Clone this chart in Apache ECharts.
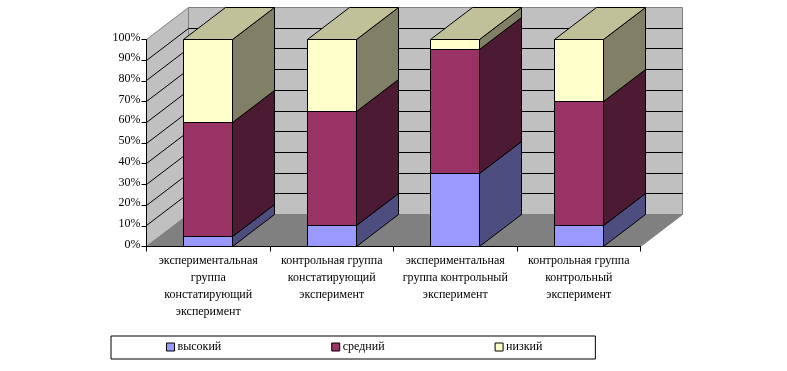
<!DOCTYPE html>
<html><head><meta charset="utf-8">
<style>html,body{margin:0;padding:0;background:#fff}#c{width:787px;height:371px}</style>
<script src="https://cdn.jsdelivr.net/npm/echarts@6/dist/echarts.min.js"></script>
</head><body><div id="c"></div>
<script>
const categories = [
  "экспериментальная\nгруппа\nконстатирующий\nэксперимент",
  "контрольная группа\nконстатирующий\nэксперимент",
  "экспериментальная\nгруппа контрольный\nэксперимент",
  "контрольная группа\nконтрольный\nэксперимент"
];
const high = [5, 10, 35.5, 10];
const mid = [55, 55.3, 59.7, 60.1];
const low = [40, 34.7, 4.8, 29.9];
const seriesNames = ["высокий", "средний", "низкий"];
const frontColors = ["#9999FF", "#993366", "#FFFFCC"];
const sideColors = ["#4D4D80", "#4D1A33", "#808066"];
const topColor = "#C0C099";
const valueTicks = [0, 10, 20, 30, 40, 50, 60, 70, 80, 90, 100];
const DX = 42, DY = 32;
const font = "'Liberation Serif','Times New Roman',serif";

const snap = v => Math.floor(v) + 0.5;
const chart = echarts.init(document.getElementById('c'), null, {renderer: 'canvas'});

function renderWalls(params, api) {
  const cs = params.coordSys;
  const l = snap(cs.x), r = snap(cs.x + cs.width);
  const children = [];
  const wallEdge = '#808080';
  const yb = snap(api.coord([0, 0])[1]), yt = snap(api.coord([0, 100])[1]);
  children.push({type:'polygon', shape:{points:[[l+DX,yt-DY],[r+DX,yt-DY],[r+DX,yb-DY],[l+DX,yb-DY]]},
    style:{fill:'#C0C0C0', stroke:wallEdge, lineWidth:1}});
  children.push({type:'polygon', shape:{points:[[l,yb],[l,yt],[l+DX,yt-DY],[l+DX,yb-DY]]},
    style:{fill:'#C0C0C0', stroke:wallEdge, lineWidth:1}});
  children.push({type:'polygon', shape:{points:[[l,yb],[r,yb],[r+DX,yb-DY],[l+DX,yb-DY]]},
    style:{fill:'#808080', stroke:wallEdge, lineWidth:1}});
  valueTicks.forEach(v => {
    if (v === 0 || v === 100) return;
    const y = snap(api.coord([0, v])[1]);
    children.push({type:'polyline', shape:{points:[[l,y],[l+DX,y-DY],[r+DX,y-DY]]},
      style:{fill:null, stroke:'#000', lineWidth:1}});
  });
  return {type:'group', children};
}

function renderBar(params, api) {
  const cat = api.value(0), from = api.value(1), to = api.value(2);
  const si = params.seriesIndex - 1;
  const c = api.coord([cat, from]), c2 = api.coord([cat, to]);
  const band = api.size([1, 0])[0];
  const w = band / 2.5;
  const x0 = snap(c[0] - w / 2), x1 = snap(c[0] + w / 2);
  const y0 = snap(c[1]), y1 = snap(c2[1]);
  const st = fill => ({fill, stroke:'#000', lineWidth:1, lineJoin:'round'});
  const kids = [
    {type:'polygon', shape:{points:[[x1,y0],[x1+DX,y0-DY],[x1+DX,y1-DY],[x1,y1]]}, style:st(sideColors[si])},
    {type:'polygon', shape:{points:[[x0,y0],[x1,y0],[x1,y1],[x0,y1]]}, style:st(frontColors[si])}
  ];
  if (si === 2) {
    kids.push({type:'polygon', shape:{points:[[x0,y1],[x1,y1],[x1+DX,y1-DY],[x0+DX,y1-DY]]}, style:st(topColor)});
  }
  return {type:'group', children:kids};
}

const stacks = [high, mid, low];
const barSeries = stacks.map((vals, si) => ({
  name: seriesNames[si],
  type: 'custom',
  renderItem: renderBar,
  clip: false,
  silent: true,
  z: 3,
  itemStyle: {color: frontColors[si]},
  encode: {x: 0, y: [1, 2]},
  data: vals.map((v, i) => {
    let base = 0;
    for (let k = 0; k < si; k++) base += stacks[k][i];
    return [i, base, base + v];
  })
}));

chart.setOption({
  animation: false,
  backgroundColor: '#fff',
  textStyle: {fontFamily: font},
  grid: {left: 146.5, right: 146.5, top: 39.5, bottom: 124.5, containLabel: false},
  legend: {
    left: 111, top: 336,
    orient: 'horizontal',
    data: seriesNames,
    selectedMode: false,
    itemWidth: 8, itemHeight: 8, itemGap: 110,
    icon: 'rect',
    padding: [5, 53, 6, 55],
    borderColor: '#000', borderWidth: 1, backgroundColor: '#fff',
    itemStyle: {borderColor: '#000', borderWidth: 1},
    textStyle: {fontFamily: font, fontSize: 12, color: '#000', padding: [0,0,0,-2]}
  },
  xAxis: {
    type: 'category', data: categories, z: 6,
    axisLine: {lineStyle: {color: '#000', width: 1}},
    axisTick: {show: true, length: 5, alignWithLabel: false, lineStyle: {color: '#000'}},
    axisLabel: {interval: 0, color: '#000', fontFamily: font, fontSize: 12, lineHeight: 17, margin: 6}
  },
  yAxis: {
    type: 'value', min: 0, max: 100, interval: 10, z: 6,
    axisLine: {show: true, lineStyle: {color: '#000', width: 1}},
    axisTick: {show: true, length: 5, lineStyle: {color: '#000'}},
    splitLine: {show: false},
    axisLabel: {color: '#000', fontFamily: font, fontSize: 12, margin: 6, verticalAlign: 'bottom', lineHeight: 4, formatter: '{value}%'}
  },
  series: [{
    type: 'custom', name: 'walls', renderItem: renderWalls, clip: false, silent: true, z: 1,
    data: [[0, 0]], encode: {x: 0, y: 1}
  }].concat(barSeries)
});
</script></body></html>
